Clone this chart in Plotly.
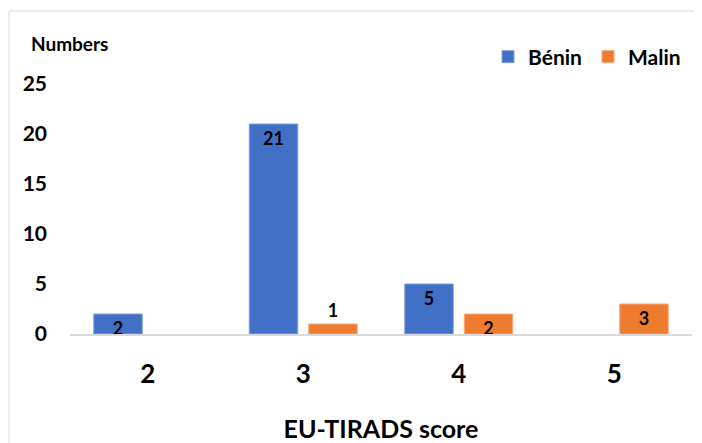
import plotly.graph_objects as go

categories = ["2", "3", "4", "5"]
benin = [2, 21, 5, None]
malin = [None, 1, 2, 3]
y_ticks = [0, 5, 10, 15, 20, 25]

FONT = "Lato, 'Open Sans', sans-serif"

# page body has an 8px margin; the figure is sized/positioned to compensate
OFF = 8
PL, PR, PT, PB = 70, 692, 84, 334      # plot area in window pixels
W, H = 702 - OFF, 443 - OFF


def labels(vals):
    return [str(v) if v is not None else "" for v in vals]


def positions(vals):
    # very short bars get their label just above the bar, as in the reference
    return ["outside" if (v is not None and v < 2) else "inside" for v in vals]


def px_x(x):
    return (x - PL) / (PR - PL)


def px_y(y):
    return (PB - y) / (PB - PT)


fig = go.Figure()
fig.add_trace(go.Bar(
    x=categories, y=benin, name="Bénin",
    marker=dict(color="#4270c6", line=dict(color="#7f9fdc", width=1)),
    text=labels(benin), textposition=positions(benin), insidetextanchor="end", textangle=0,
    textfont=dict(family=FONT, size=18, color="black", weight="bold"),
    cliponaxis=False,
))
fig.add_trace(go.Bar(
    x=categories, y=malin, name="Malin",
    marker=dict(color="#ef7b2f", line=dict(color="#f5a877", width=1)),
    text=labels(malin), textposition=positions(malin), insidetextanchor="end", textangle=0,
    textfont=dict(family=FONT, size=18, color="black", weight="bold"),
    cliponaxis=False,
))

fig.update_layout(
    width=W, height=H,
    margin=dict(l=PL - OFF, r=W - (PR - OFF), t=PT - OFF, b=H - (PB - OFF), autoexpand=False),
    paper_bgcolor="white", plot_bgcolor="white",
    barmode="group", bargap=0.235, bargroupgap=0.185,
    font=dict(family=FONT, color="black"),
    uniformtext=dict(mode="show", minsize=18),
    showlegend=True,
    legend=dict(orientation="h", x=px_x(688), xanchor="right", y=px_y(57), yanchor="middle",
                font=dict(family=FONT, size=21, weight="bold"),
                itemwidth=30, entrywidth=55, entrywidthmode="pixels", traceorder="normal"),
    xaxis=dict(
        type="category", showline=True, linecolor="#d9d9d9", linewidth=1.5,
        showgrid=False, ticks="", tickfont=dict(family=FONT, size=26, weight="bold"),
        ticklabelstandoff=16, automargin=False,
        title=dict(text="EU-TIRADS score", font=dict(family=FONT, size=25, weight="bold"), standoff=35),
    ),
    yaxis=dict(
        range=[0, 25], tickvals=y_ticks, showgrid=False, zeroline=False, showline=False,
        ticks="", tickfont=dict(family=FONT, size=21, weight="bold"),
        ticklabelstandoff=22, automargin=False,
    ),
    shapes=[dict(type="rect", xref="paper", yref="paper",
                 x0=px_x(9), x1=px_x(712),
                 y0=px_y(460), y1=px_y(11),
                 line=dict(color="#d9d9d9", width=1), fillcolor="rgba(0,0,0,0)", layer="below")],
    annotations=[dict(text="Numbers", xref="paper", yref="paper",
                      x=px_x(29), y=px_y(43), xanchor="left", yanchor="middle",
                      showarrow=False, font=dict(family=FONT, size=19, weight="bold"))],
)

fig.write_html("out.html")
